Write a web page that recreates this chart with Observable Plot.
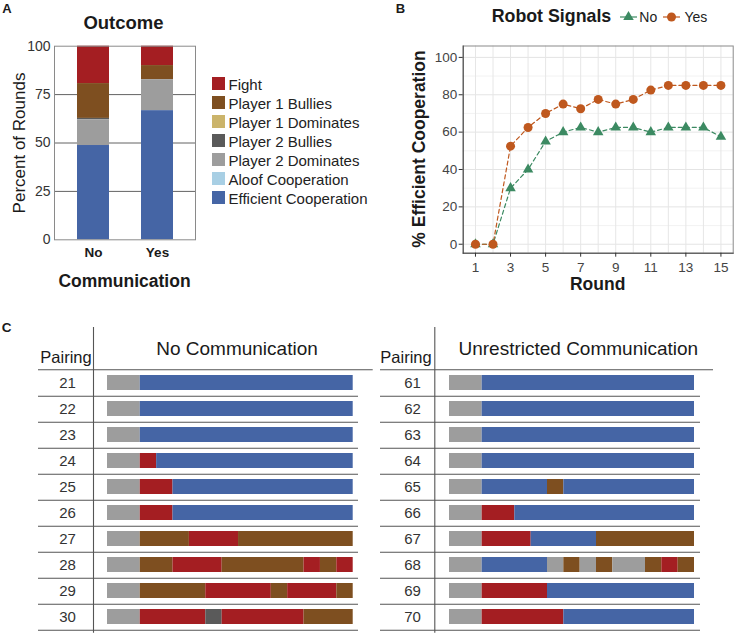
<!DOCTYPE html>
<html>
<head>
<meta charset="utf-8">
<script src="https://cdn.jsdelivr.net/npm/d3@7"></script>
<script src="https://cdn.jsdelivr.net/npm/@observablehq/plot@0.6"></script>
<style>
  body { margin: 0; background: #fff; }
  #root { position: relative; width: 736px; height: 636px; overflow: hidden; background: #fff;
          font-family: Helvetica, Arial, "Liberation Sans", sans-serif; color: #1a1a1a; }
  #root svg { position: absolute; }
</style>
</head>
<body>
<div id="root"></div>
<script>
// ---------------- DATA ----------------
const outcomeNames = ["Fight", "Player 1 Bullies", "Player 1 Dominates", "Player 2 Bullies",
                      "Player 2 Dominates", "Aloof Cooperation", "Efficient Cooperation"];
const outcomeCodes = ["F", "B1", "D1", "B2", "D2", "A", "E"];
const outcomeColors = ["#a41e22", "#7e4f20", "#cbb46b", "#5a5a5a", "#9d9d9d", "#a8cfe4", "#4565a5"];

// Panel A: percent of rounds by outcome (same order as outcomeNames)
const commGroups = ["No", "Yes"];
const pctNoComm  = [19.3, 18.0, 0, 0.7, 13.3, 0, 48.7];
const pctYesComm = [10.0, 7.3, 0, 0, 16.0, 0, 66.7];
const pctTicks = [0, 25, 50, 75, 100];

// Panel B: % efficient cooperation per round
const signalGroups = ["No", "Yes"];
const rounds = [1, 2, 3, 4, 5, 6, 7, 8, 9, 10, 11, 12, 13, 14, 15];
const effNoSignal  = [0, 0, 30, 40, 55, 60, 62.5, 60, 62.5, 62.5, 60, 62.5, 62.5, 62.5, 57.5];
const effYesSignal = [0, 0, 52.5, 62.5, 70, 75, 72.5, 77.5, 75, 77.5, 82.5, 85, 85, 85, 85];
const roundTicks = [1, 3, 5, 7, 9, 11, 13, 15];
const effTicks = [0, 20, 40, 60, 80, 100];
const effMinor = [10, 30, 50, 70, 90];

// Panel C: outcome of each of the 15 rounds per pairing
const noCommPairings = [21, 22, 23, 24, 25, 26, 27, 28, 29, 30];
const noCommRounds = [
  "D2 D2 E E E E E E E E E E E E E",
  "D2 D2 E E E E E E E E E E E E E",
  "D2 D2 E E E E E E E E E E E E E",
  "D2 D2 F E E E E E E E E E E E E",
  "D2 D2 F F E E E E E E E E E E E",
  "D2 D2 F F E E E E E E E E E E E",
  "D2 D2 B1 B1 B1 F F F B1 B1 B1 B1 B1 B1 B1",
  "D2 D2 B1 B1 F F F B1 B1 B1 B1 B1 F B1 F",
  "D2 D2 B1 B1 B1 B1 F F F F B1 F F F B1",
  "D2 D2 F F F F B2 F F F F F B1 B1 B1"
];
const yesCommPairings = [61, 62, 63, 64, 65, 66, 67, 68, 69, 70];
const yesCommRounds = [
  "D2 D2 E E E E E E E E E E E E E",
  "D2 D2 E E E E E E E E E E E E E",
  "D2 D2 E E E E E E E E E E E E E",
  "D2 D2 E E E E E E E E E E E E E",
  "D2 D2 E E E E B1 E E E E E E E E",
  "D2 D2 F F E E E E E E E E E E E",
  "D2 D2 F F F E E E E B1 B1 B1 B1 B1 B1",
  "D2 D2 E E E E D2 B1 D2 B1 D2 D2 B1 F B1",
  "D2 D2 F F F F E E E E E E E E E",
  "D2 D2 F F F F F E E E E E E E E"
];

// ---------------- HELPERS ----------------
const FONT = 'Helvetica, Arial, "Liberation Sans", sans-serif';
const GREEN = "#3c8a62", ORANGE = "#bf581e";
const root = document.getElementById("root");

function put(el, x, y) { el.style.left = x + "px"; el.style.top = y + "px"; root.appendChild(el); return el; }
function label(text, x, y, o = {}) {
  const d = document.createElement("div");
  d.textContent = text;
  const tx = o.align === "left" ? "0" : o.align === "right" ? "-100%" : "-50%";
  d.style.cssText = `position:absolute;white-space:nowrap;line-height:1;font-size:${o.size || 14}px;` +
    `font-weight:${o.weight || "normal"};color:${o.color || "#1a1a1a"};` +
    `transform:translate(${tx},-50%) rotate(${o.rotate || 0}deg);`;
  return put(d, x, y);
}

// ---------------- PANEL A ----------------
const aRows = [];
commGroups.forEach((g, gi) => {
  const vals = gi === 0 ? pctNoComm : pctYesComm;
  outcomeNames.forEach((o, i) => { if (vals[i] > 0) aRows.push({comm: g, outcome: o, pct: vals[i]}); });
});
const stackOrder = outcomeNames.slice().reverse();

const plotA = Plot.plot({
  width: 200, height: 300,
  marginLeft: 54, marginRight: 5, marginTop: 45.7, marginBottom: 60.7,
  style: {fontFamily: FONT, fontSize: "14px", color: "#333", background: "none", overflow: "visible"},
  x: {domain: commGroups, paddingInner: 0.5, paddingOuter: 0.35},
  y: {domain: [0, 100]},
  color: {domain: outcomeNames, range: outcomeColors},
  marks: [
    Plot.ruleY([25, 50, 75], {stroke: "#3a3a3a", strokeWidth: 0.8}),
    Plot.barY(aRows, {x: "comm", y: "pct", fill: "outcome", order: stackOrder}),
    Plot.frame({stroke: "#8a8a8a"}),
    Plot.axisY({ticks: pctTicks, tickSize: 0, tickPadding: 4, label: null, fontSize: 14, fill: "#333"}),
    Plot.axisX({tickSize: 0, tickPadding: 8, label: null, fontSize: 13.5, fontWeight: "bold", fill: "#1a1a1a"})
  ]
});
put(plotA, 0, 0);

// legend for A
outcomeNames.forEach((o, i) => {
  const cy = 83.5 + i * 19.05;
  const sw = document.createElement("div");
  sw.style.cssText = `position:absolute;width:13px;height:13px;background:${outcomeColors[i]};`;
  put(sw, 211.7, cy - 6.5);
  label(o, 228.5, cy, {align: "left", size: 15, color: "#222"});
});
label("Outcome", 123.5, 23, {size: 18.5, weight: "bold"});
label("Percent of Rounds", 19, 143, {size: 17, rotate: -90, color: "#1a1a1a"});
label("Communication", 124.5, 281.5, {size: 17.5, weight: "600"});
label("A", 7, 7.5, {size: 13, weight: "bold"});

// ---------------- PANEL B ----------------
const bRows = [];
signalGroups.forEach((s, si) => {
  const vals = si === 0 ? effNoSignal : effYesSignal;
  rounds.forEach((r, i) => bRows.push({signal: s, round: r, pct: vals[i]}));
});
const bNo = bRows.filter(d => d.signal === "No");
const bYes = bRows.filter(d => d.signal === "Yes");

const plotB = Plot.plot({
  width: 356, height: 300,
  marginLeft: 82.7, marginRight: 3.3, marginTop: 45.5, marginBottom: 47.3,
  style: {fontFamily: FONT, fontSize: "13.5px", color: "#333", background: "none", overflow: "visible"},
  x: {domain: [0.3, 15.7]},
  y: {domain: [-4.8, 106.1]},
  marks: [
    Plot.ruleY(effMinor, {stroke: "#ececec", strokeWidth: 0.7}),
    Plot.ruleY(effTicks, {stroke: "#e4e4e4", strokeWidth: 1}),
    Plot.ruleX(rounds, {stroke: "#e6e6e6", strokeWidth: 1}),
    Plot.frame({stroke: "#8a8a8a"}),
    Plot.frame({anchor: "left", stroke: "#444"}),
    Plot.frame({anchor: "bottom", stroke: "#444"}),
    Plot.lineY(bNo, {x: "round", y: "pct", stroke: GREEN, strokeWidth: 1.2, strokeDasharray: "4,3"}),
    Plot.lineY(bYes, {x: "round", y: "pct", stroke: ORANGE, strokeWidth: 1.2, strokeDasharray: "4,3"}),
    Plot.dot(bNo, {x: "round", y: "pct", symbol: "triangle", r: 3.9, fill: GREEN}),
    Plot.dot(bYes, {x: "round", y: "pct", symbol: "circle", r: 4.5, fill: ORANGE}),
    Plot.axisY({ticks: effTicks, tickSize: 4, tickPadding: 2, label: null, fill: "#444", stroke: "#333"}),
    Plot.axisX({ticks: roundTicks, tickSize: 4, tickPadding: 5, label: null, fill: "#444", stroke: "#333"})
  ]
});
put(plotB, 380, 0);

label("B", 400.5, 7.5, {size: 13, weight: "bold"});
label("Round", 597.7, 284.5, {size: 17.5, weight: "bold"});
label("% Efficient Cooperation", 419.5, 149, {size: 17.5, weight: "bold", rotate: -90});
label("Robot Signals", 491.7, 16.5, {align: "left", size: 17.8, weight: "bold"});

function legendKey(x, color, symbol) {
  const ns = "http://www.w3.org/2000/svg";
  const s = document.createElementNS(ns, "svg");
  s.setAttribute("width", 18); s.setAttribute("height", 14);
  s.style.position = "absolute";
  const l = document.createElementNS(ns, "line");
  l.setAttribute("x1", 0); l.setAttribute("x2", 17); l.setAttribute("y1", 7); l.setAttribute("y2", 7);
  l.setAttribute("stroke", color); l.setAttribute("stroke-width", 1.2);
  s.appendChild(l);
  const p = document.createElementNS(ns, "path");
  p.setAttribute("d", d3.symbol(symbol === "triangle" ? d3.symbolTriangle : d3.symbolCircle,
                                symbol === "triangle" ? Math.PI * 3.9 * 3.9 : Math.PI * 4.5 * 4.5)());
  p.setAttribute("transform", "translate(8.5,7)");
  p.setAttribute("fill", color);
  s.appendChild(p);
  s.style.left = x + "px"; s.style.top = (16.5 - 7) + "px";
  root.appendChild(s);
}
legendKey(619.8, GREEN, "triangle");
label("No", 639.3, 16.5, {align: "left", size: 14, color: "#222"});
legendKey(662.5, ORANGE, "circle");
label("Yes", 684.5, 16.5, {align: "left", size: 14, color: "#222"});

// ---------------- PANEL C ----------------
function segmentsOf(pairings, seqs) {
  const segs = [];
  pairings.forEach((p, i) => {
    const codes = seqs[i].split(" ");
    let start = 0;
    for (let r = 1; r <= codes.length; r++) {
      if (r === codes.length || codes[r] !== codes[start]) {
        segs.push({pairing: p, x1: start, x2: r, outcome: outcomeNames[outcomeCodes.indexOf(codes[start])]});
        start = r;
      }
    }
  });
  return segs;
}

function makeTable(pairings, seqs, cfg) {
  const H = 326, top = 57.7, bottom = 321.7;
  const step = (bottom - top) / pairings.length;
  return Plot.plot({
    width: cfg.width, height: H,
    marginLeft: cfg.divider, marginRight: cfg.width - cfg.ruleEnd, marginTop: 17, marginBottom: H - bottom,
    style: {fontFamily: FONT, fontSize: "15px", color: "#333", background: "none", overflow: "visible"},
    x: {domain: [0, 15], range: [cfg.barStart, cfg.barEnd], axis: null},
    y: {type: "band", domain: pairings, range: [top, bottom], paddingInner: 0.43, paddingOuter: 0.215, axis: null},
    color: {domain: outcomeNames, range: outcomeColors},
    marks: [
      Plot.ruleY(pairings, {y: d => d, dy: step / 2, insetLeft: -(cfg.divider - cfg.ruleStart), stroke: "#555", strokeWidth: 1.1}),
      Plot.ruleY(pairings.slice(0, 1), {y: d => d, dy: -step / 2, insetLeft: -(cfg.divider - cfg.ruleStart), insetRight: -cfg.headerExtra, stroke: "#555", strokeWidth: 1.1}),
      Plot.frame({anchor: "left", stroke: "#555", strokeWidth: 1.1}),
      Plot.barX(segmentsOf(pairings, seqs), {x1: "x1", x2: "x2", y: "pairing", fill: "outcome"}),
      Plot.text(pairings, {y: d => d, text: d => String(d), frameAnchor: "left", dx: cfg.labelDx, textAnchor: "middle", fontSize: 15, fill: "#333"})
    ]
  });
}

const tableL = makeTable(noCommPairings, noCommRounds,
  {width: 372, divider: 93, ruleStart: 38, ruleEnd: 358, headerExtra: 14.7, barStart: 107, barEnd: 352.7, labelDx: -26});
put(tableL, 0, 310);
const tableR = makeTable(yesCommPairings, yesCommRounds,
  {width: 364, divider: 62.3, ruleStart: 8, ruleEnd: 328, headerExtra: 13, barStart: 77, barEnd: 322, labelDx: -22.3});
put(tableR, 372, 310);

label("C", 6.7, 328.3, {size: 13.5, weight: "bold"});
label("Pairing", 91.7, 357, {align: "right", size: 16.5, color: "#1a1a1a"});
label("Pairing", 431.7, 357, {align: "right", size: 16.5, color: "#1a1a1a"});
label("No Communication", 237, 348, {size: 19, color: "#1a1a1a"});
label("Unrestricted Communication", 578.3, 348, {size: 19, color: "#1a1a1a"});
</script>
</body>
</html>
